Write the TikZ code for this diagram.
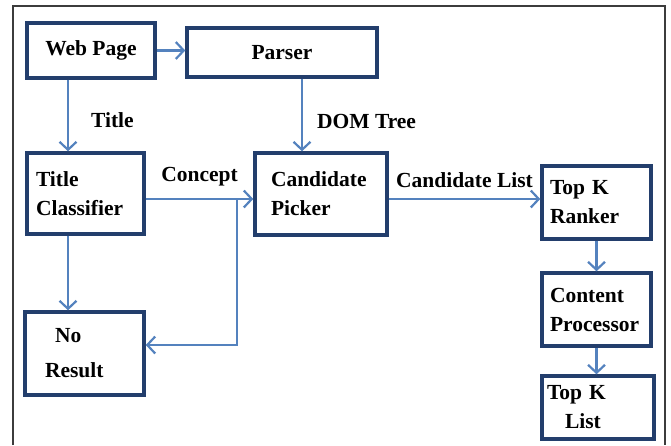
\documentclass[tikz,border=0pt]{standalone}
\usepackage{fontspec}
\setmainfont{Liberation Serif}
\usetikzlibrary{arrows.meta, positioning, calc}
\definecolor{boxblue}{RGB}{35,62,108}
\definecolor{flowblue}{RGB}{84,130,190}
\definecolor{framegray}{RGB}{60,60,60}

\begin{document}
\begin{tikzpicture}[x=1pt, y=-1pt,
  block/.style={draw=boxblue, line width=3.4pt, inner sep=0pt, align=center,
    font=\fontsize{21.5}{29}\selectfont\bfseries},
  flow/.style={-{Straight Barb[length=8pt, width=17pt]}, draw=flowblue, line width=2.2pt},
  tag/.style={font=\fontsize{21.5}{29}\selectfont\bfseries, inner sep=0pt},
]
\useasboundingbox (0,0) rectangle (671,445);
\draw[framegray, line width=1.4pt] (13,445) -- (13,6) -- (665,6) -- (665,445);

\node[block, minimum width=128pt, minimum height=55pt] (web) at (91,50.5) {Web Page};
\node[block, minimum width=190pt, minimum height=49pt] (parser) at (282,52.5) {Parser};
\node[block, minimum width=117pt, minimum height=81pt, text width=99pt, align=left]
  (classifier) at (85.5,193.5) {Title\\Classifier};
\node[block, minimum width=132pt, minimum height=82pt, text width=100pt, align=left]
  (picker) at (321,194) {Candidate\\Picker};
\node[block, minimum width=119pt, minimum height=83pt, text width=79pt, align=left]
  (noresult) at (84.5,353.5) {\hspace*{10pt}No\\[6pt]Result};
\node[block, minimum width=109pt, minimum height=73pt, text width=93pt, align=left]
  (ranker) at (596.5,202.5) {Top K\\Ranker};
\node[block, minimum width=109pt, minimum height=73pt, text width=93pt, align=left]
  (processor) at (596.5,309.5) {Content\\Processor};
\node[block, minimum width=112pt, minimum height=63pt, text width=102pt, align=left]
  (topk) at (598,407.5) {Top K\\\hspace*{18pt}List};

\coordinate (leftlane) at (68,0);
\coordinate (domlane) at (302,0);
\coordinate (branch) at (237,199);
\coordinate (elbow) at (237,345);

\draw[flow] (web.east) -- (web.east -| parser.west);
\draw[flow] (leftlane |- web.south) -- (leftlane |- classifier.north)
  node[tag, pos=0.57, right=22pt] (ttitle) {Title};
\draw[flow] (domlane |- parser.south) -- (domlane |- picker.north)
  node[tag, pos=0.59, right=14pt] (tdom) {DOM Tree};
\draw[flow] (classifier.east |- branch) -- (picker.west |- branch)
  node[tag, midway, above=12pt] (tconcept) {Concept};
\draw[flow] (branch) -- (elbow) -- (elbow -| noresult.east);
\draw[flow] (leftlane |- classifier.south) -- (leftlane |- noresult.north);
\draw[flow] (picker.east |- branch) -- (ranker.west |- branch)
  node[tag, midway, above=10pt] (tlist) {Candidate List};
\draw[flow] (ranker.south) -- (processor.north);
\draw[flow] (processor.south) -- (processor.south |- topk.north);
\end{tikzpicture}
\end{document}
